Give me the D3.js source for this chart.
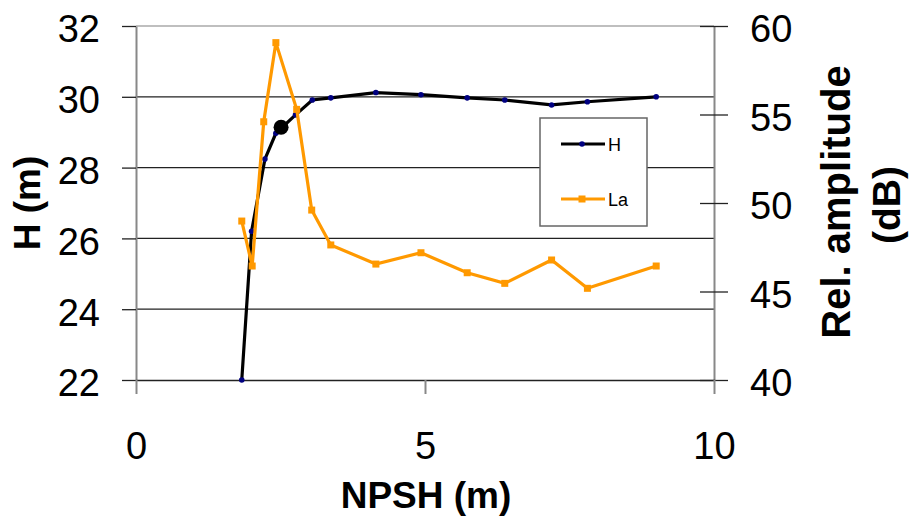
<!DOCTYPE html>
<html>
<head>
<meta charset="utf-8">
<script src="https://cdn.jsdelivr.net/npm/d3@7"></script>
<style>
  body { margin: 0; background: #fff; }
  svg text { font-family: "Liberation Sans", Arial, sans-serif; }
</style>
</head>
<body>
<svg id="chart" width="912" height="521"></svg>
<script>
// values
var npsh = [1.83, 2.0, 2.23, 2.42, 2.76, 3.05, 3.37, 4.15, 4.93, 5.73, 6.38, 7.19, 7.81, 9.0];
var headH = [22.0, 26.2, 28.24, 28.97, 29.49, 29.91, 29.97, 30.12, 30.06, 29.97, 29.91, 29.77, 29.86, 30.0];

var npshLa = [1.83, 2.01, 2.21, 2.42, 2.78, 3.04, 3.37, 4.15, 4.93, 5.73, 6.38, 7.19, 7.81, 9.0];
var ampLa = [48.98, 46.44, 54.59, 59.06, 55.29, 49.6, 47.63, 46.55, 47.19, 46.06, 45.46, 46.78, 45.18, 46.44];

var markedPoint = [2.51, 29.14];   // the big black dot

var xTicks = [0, 5, 10];
var yLeftTicks = [22, 24, 26, 28, 30, 32];
var yRightTicks = [40, 45, 50, 55, 60];

var svg = d3.select("#chart");

var plotLeft = 136, plotRight = 714, plotTop = 26, plotBottom = 380;

var x = d3.scaleLinear().domain([0, 10]).range([plotLeft, plotRight]);
var yL = d3.scaleLinear().domain([22, 32]).range([plotBottom, plotTop]);
var yR = d3.scaleLinear().domain([40, 60]).range([plotBottom, plotTop]);

// grid lines
svg.append("g").selectAll("line")
  .data(yLeftTicks.filter(function(d){ return d > 22 && d < 32; }))
  .enter().append("line")
  .attr("x1", plotLeft).attr("x2", plotRight)
  .attr("y1", function(d){ return yL(d); }).attr("y2", function(d){ return yL(d); })
  .attr("stroke", "#222").attr("stroke-width", 1.3);

// top border
svg.append("line").attr("x1", plotLeft).attr("x2", plotRight).attr("y1", plotTop).attr("y2", plotTop)
  .attr("stroke", "#aaa").attr("stroke-width", 1.5);

// left axis
var axL = svg.append("g").attr("transform", "translate(" + plotLeft + ",0)")
  .call(d3.axisLeft(yL).tickValues(yLeftTicks).tickSizeInner(14).tickSizeOuter(0).tickPadding(22));
axL.select(".domain").attr("stroke", "#888").attr("stroke-width", 2);
axL.selectAll(".tick line").attr("stroke", "#222").attr("stroke-width", 1.3);
axL.selectAll("text").attr("font-size", 38).attr("fill", "#000").attr("dy", "0.42em")
  .style("font-family", "Liberation Sans, Arial, sans-serif");

// right axis
var axR = svg.append("g").attr("transform", "translate(" + plotRight + ",0)")
  .call(d3.axisRight(yR).tickValues(yRightTicks).tickSizeInner(14).tickSizeOuter(0).tickPadding(22));
axR.select(".domain").attr("stroke", "#888").attr("stroke-width", 2);
axR.selectAll(".tick line").attr("x1", -14).attr("stroke", "#222").attr("stroke-width", 1.3);
axR.selectAll("text").attr("font-size", 38).attr("fill", "#000").attr("dy", "0.42em")
  .style("font-family", "Liberation Sans, Arial, sans-serif");

// bottom axis
var axB = svg.append("g").attr("transform", "translate(0," + plotBottom + ")")
  .call(d3.axisBottom(x).tickValues(xTicks).tickSizeInner(14).tickSizeOuter(0).tickPadding(38));
axB.select(".domain").attr("stroke", "#222").attr("stroke-width", 1.5);
axB.selectAll(".tick line").attr("stroke", "#888").attr("stroke-width", 2);
axB.selectAll("text").attr("font-size", 38).attr("fill", "#000")
  .style("font-family", "Liberation Sans, Arial, sans-serif");

// axis titles
svg.append("text").attr("x", 426).attr("y", 508)
  .attr("text-anchor", "middle").attr("font-size", 37).attr("font-weight", "bold")
  .text("NPSH (m)");

svg.append("text").attr("transform", "translate(40,203) rotate(-90)")
  .attr("text-anchor", "middle").attr("font-size", 37).attr("font-weight", "bold")
  .text("H (m)");

svg.append("text").attr("transform", "translate(850,202) rotate(-90)")
  .attr("text-anchor", "middle").attr("font-size", 40).attr("font-weight", "bold")
  .text("Rel. amplitude");
svg.append("text").attr("transform", "translate(900,205) rotate(-90)")
  .attr("text-anchor", "middle").attr("font-size", 39).attr("font-weight", "bold")
  .text("(dB)");

// H series
var hData = npsh.map(function(d, i){ return [d, headH[i]]; });
var lineH = d3.line().x(function(d){ return x(d[0]); }).y(function(d){ return yL(d[1]); });
svg.append("path").datum(hData).attr("d", lineH)
  .attr("fill", "none").attr("stroke", "#000").attr("stroke-width", 3.2);
svg.append("g").selectAll("circle").data(hData).enter().append("circle")
  .attr("cx", function(d){ return x(d[0]); }).attr("cy", function(d){ return yL(d[1]); })
  .attr("r", 2.8).attr("fill", "#000080");

svg.append("circle").attr("cx", x(markedPoint[0])).attr("cy", yL(markedPoint[1]))
  .attr("r", 7.5).attr("fill", "#000");

// La series
var laData = npshLa.map(function(d, i){ return [d, ampLa[i]]; });
var lineLa = d3.line().x(function(d){ return x(d[0]); }).y(function(d){ return yR(d[1]); });
svg.append("path").datum(laData).attr("d", lineLa)
  .attr("fill", "none").attr("stroke", "#FF9900").attr("stroke-width", 3.2);
svg.append("g").selectAll("rect").data(laData).enter().append("rect")
  .attr("x", function(d){ return x(d[0]) - 3.5; }).attr("y", function(d){ return yR(d[1]) - 3.5; })
  .attr("width", 7).attr("height", 7).attr("fill", "#FF9900");

// legend
var lg = svg.append("g");
lg.append("rect").attr("x", 540).attr("y", 118).attr("width", 107).attr("height", 108)
  .attr("fill", "#fff").attr("stroke", "#666").attr("stroke-width", 1.5);
lg.append("line").attr("x1", 561).attr("x2", 605).attr("y1", 144).attr("y2", 144)
  .attr("stroke", "#000").attr("stroke-width", 3);
lg.append("circle").attr("cx", 582).attr("cy", 144).attr("r", 2.8).attr("fill", "#000080");
lg.append("text").attr("x", 608).attr("y", 151).attr("font-size", 18).text("H");
lg.append("line").attr("x1", 561).attr("x2", 605).attr("y1", 199).attr("y2", 199)
  .attr("stroke", "#FF9900").attr("stroke-width", 3);
lg.append("rect").attr("x", 578.5).attr("y", 195.5).attr("width", 7).attr("height", 7).attr("fill", "#FF9900");
lg.append("text").attr("x", 608).attr("y", 206).attr("font-size", 18).text("La");
</script>
</body>
</html>
